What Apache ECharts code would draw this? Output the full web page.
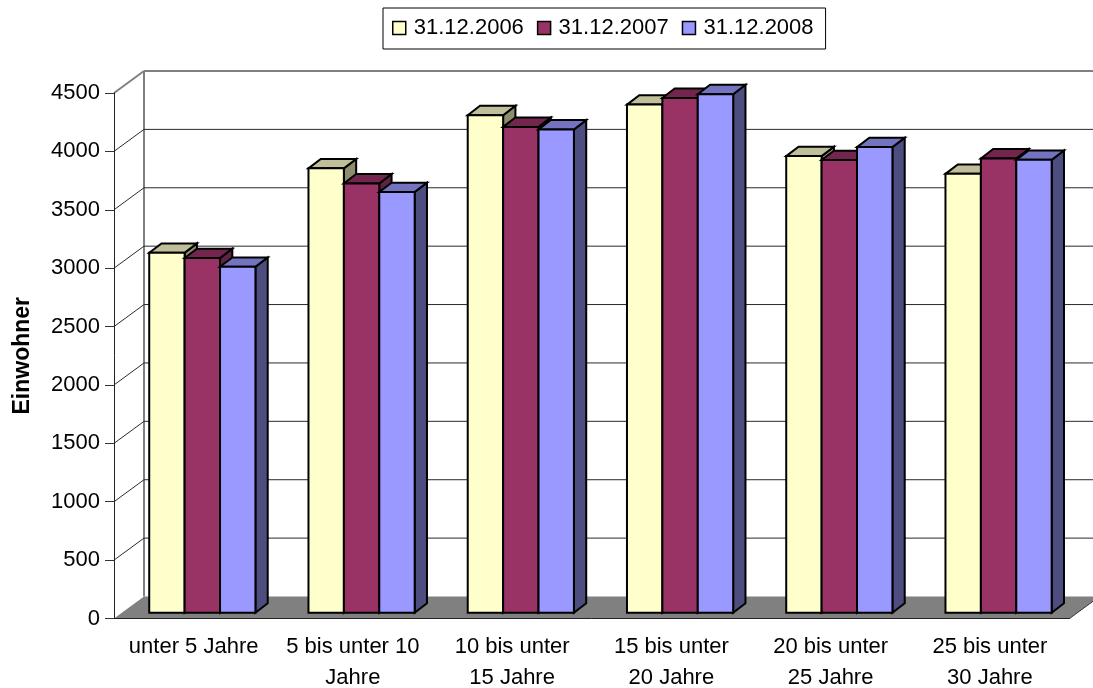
<!DOCTYPE html>
<html>
<head>
<meta charset="utf-8">
<style>html,body{margin:0;padding:0;background:#fff}#chart{width:1093px;height:688px}</style>
<script src="https://cdn.jsdelivr.net/npm/echarts@6/dist/echarts.min.js"></script>
</head>
<body>
<div id="chart"></div>
<script>
// Einwohner nach Altersgruppe, jeweils zum Jahresende
const categories = ['unter 5 Jahre', '5 bis unter 10\nJahre', '10 bis unter\n15 Jahre', '15 bis unter\n20 Jahre', '20 bis unter\n25 Jahre', '25 bis unter\n30 Jahre'];
const seriesNames = ['31.12.2006', '31.12.2007', '31.12.2008'];
const values2006 = [3082, 3805, 4260, 4351, 3910, 3758];
const values2007 = [3037, 3676, 4160, 4408, 3876, 3890];
const values2008 = [2962, 3602, 4138, 4440, 3987, 3878];
const yTicks = [0, 500, 1000, 1500, 2000, 2500, 3000, 3500, 4000, 4500];

const fronts = ['#FFFFCC', '#993366', '#9999FF'];
const tops = ['#BFBF99', '#73264D', '#7373BF'];
const sides = ['#8C8C6E', '#5E2340', '#4D4D80'];

// Raumtiefe des Diagramms und Lage der Säulen darin
const WALL_DX = 30, WALL_DY = -22;
const BAR_DX = 8.7, BAR_DY = -5.8;
const DEPTH_DX = 12.3, DEPTH_DY = -9.4;
const BAR_WIDTH = 35.4;
const FONT = '"Liberation Sans", Arial, sans-serif';

function poly(points, fill, stroke, width) {
  return {
    type: 'polygon',
    shape: { points },
    style: { fill, stroke: stroke || null, lineWidth: width || 0, lineJoin: 'miter' }
  };
}
function line(x1, y1, x2, y2, stroke, width) {
  return { type: 'line', shape: { x1, y1, x2, y2 }, style: { stroke, lineWidth: width } };
}

// Boden, Rückwand und Gitterlinien
function renderRoom(params, api) {
  const tick = api.value(1);
  const c = params.coordSys;
  const y = api.coord([0, tick])[1];
  const x0 = c.x, x1 = c.x + c.width;
  const items = [];
  if (tick === 0) {
    items.push(poly([[x0, y], [x0 + WALL_DX, y + WALL_DY], [x1 + WALL_DX, y + WALL_DY], [x1, y]], '#808080'));
    items.push(line(x0 + WALL_DX, y + WALL_DY, x0 + WALL_DX, c.y + WALL_DY, '#808080', 2));
    items.push(line(x1, y, x1 + WALL_DX, y + WALL_DY, '#333', 1));
  } else {
    const top = tick === yTicks[yTicks.length - 1];
    items.push(line(x0 + WALL_DX, y + WALL_DY, x1 + WALL_DX, y + WALL_DY, top ? '#808080' : '#2a2a2a', top ? 2 : 1));
    items.push(line(x0, y, x0 + WALL_DX, y + WALL_DY, top ? '#808080' : '#2a2a2a', top ? 2 : 1));
  }
  return { type: 'group', children: items };
}

// Eine Säule mit Vorderseite, Deckfläche und Seitenfläche
function renderBar(seriesIndex) {
  return function (params, api) {
    const cat = api.value(0);
    const centre = api.coord([cat, 0]);
    const top = api.coord([cat, api.value(1)]);
    const left = centre[0] + BAR_DX - BAR_WIDTH * 1.5 + seriesIndex * BAR_WIDTH;
    const right = left + BAR_WIDTH;
    const base = centre[1] + BAR_DY;
    const head = top[1] + BAR_DY;
    const s = '#000', w = 2;
    return {
      type: 'group',
      children: [
        poly([[right, base], [right + DEPTH_DX, base + DEPTH_DY], [right + DEPTH_DX, head + DEPTH_DY], [right, head]], sides[seriesIndex], s, w),
        poly([[left, head], [left + DEPTH_DX, head + DEPTH_DY], [right + DEPTH_DX, head + DEPTH_DY], [right, head]], tops[seriesIndex], s, w),
        poly([[left, base], [right, base], [right, head], [left, head]], fronts[seriesIndex], s, w)
      ]
    };
  };
}

const allValues = [values2006, values2007, values2008];
const chart = echarts.init(document.getElementById('chart'), null, { renderer: 'canvas' });

chart.setOption({
  animation: false,
  textStyle: { fontFamily: FONT },
  legend: {
    data: seriesNames.map((name, i) => ({
      name,
      icon: 'rect',
      itemStyle: { color: fronts[i], borderColor: '#000', borderWidth: 1.5 }
    })),
    left: 383,
    top: 8,
    padding: [9, 12, 10, 9],
    itemWidth: 13,
    itemHeight: 13,
    itemGap: 13,
    selectedMode: false,
    backgroundColor: '#fff',
    borderColor: '#000',
    borderWidth: 1,
    borderRadius: 0,
    textStyle: { color: '#000', fontSize: 22, fontFamily: FONT, padding: [0, 0, 0, 3] }
  },
  grid: { left: 114, top: 93, width: 955.5, height: 525.5, containLabel: false, outerBoundsMode: 'none' },
  xAxis: {
    type: 'category',
    data: categories,
    z: 3,
    axisLine: { lineStyle: { color: '#222', width: 1 } },
    axisTick: { length: 9, lineStyle: { color: '#333' } },
    axisLabel: { color: '#000', fontSize: 22, fontFamily: FONT, lineHeight: 31, margin: 13, interval: 0 }
  },
  yAxis: {
    type: 'value',
    min: 0,
    max: 4500,
    interval: 500,
    z: 3,
    name: 'Einwohner',
    nameLocation: 'middle',
    nameGap: 80,
    nameTextStyle: { color: '#000', fontSize: 23, fontWeight: 'bold', fontFamily: FONT },
    axisLine: { show: true, lineStyle: { color: '#222', width: 1 } },
    axisTick: { show: true, length: 9, lineStyle: { color: '#333' } },
    axisLabel: { color: '#000', fontSize: 22, fontFamily: FONT, margin: 14, padding: [3, 0, 0, 0], formatter: v => String(v) },
    splitLine: { show: false }
  },
  series: [
    {
      type: 'custom',
      name: 'Raum',
      renderItem: renderRoom,
      data: yTicks.map(t => [0, t]),
      encode: { x: 0, y: 1 },
      silent: true,
      z: 1
    },
    ...seriesNames.map((name, i) => ({
      type: 'custom',
      name,
      renderItem: renderBar(i),
      data: allValues[i].map((v, c) => [c, v]),
      encode: { x: 0, y: 1 },
      itemStyle: { color: fronts[i] },
      z: 2 + i
    }))
  ]
});
</script>
</body>
</html>
